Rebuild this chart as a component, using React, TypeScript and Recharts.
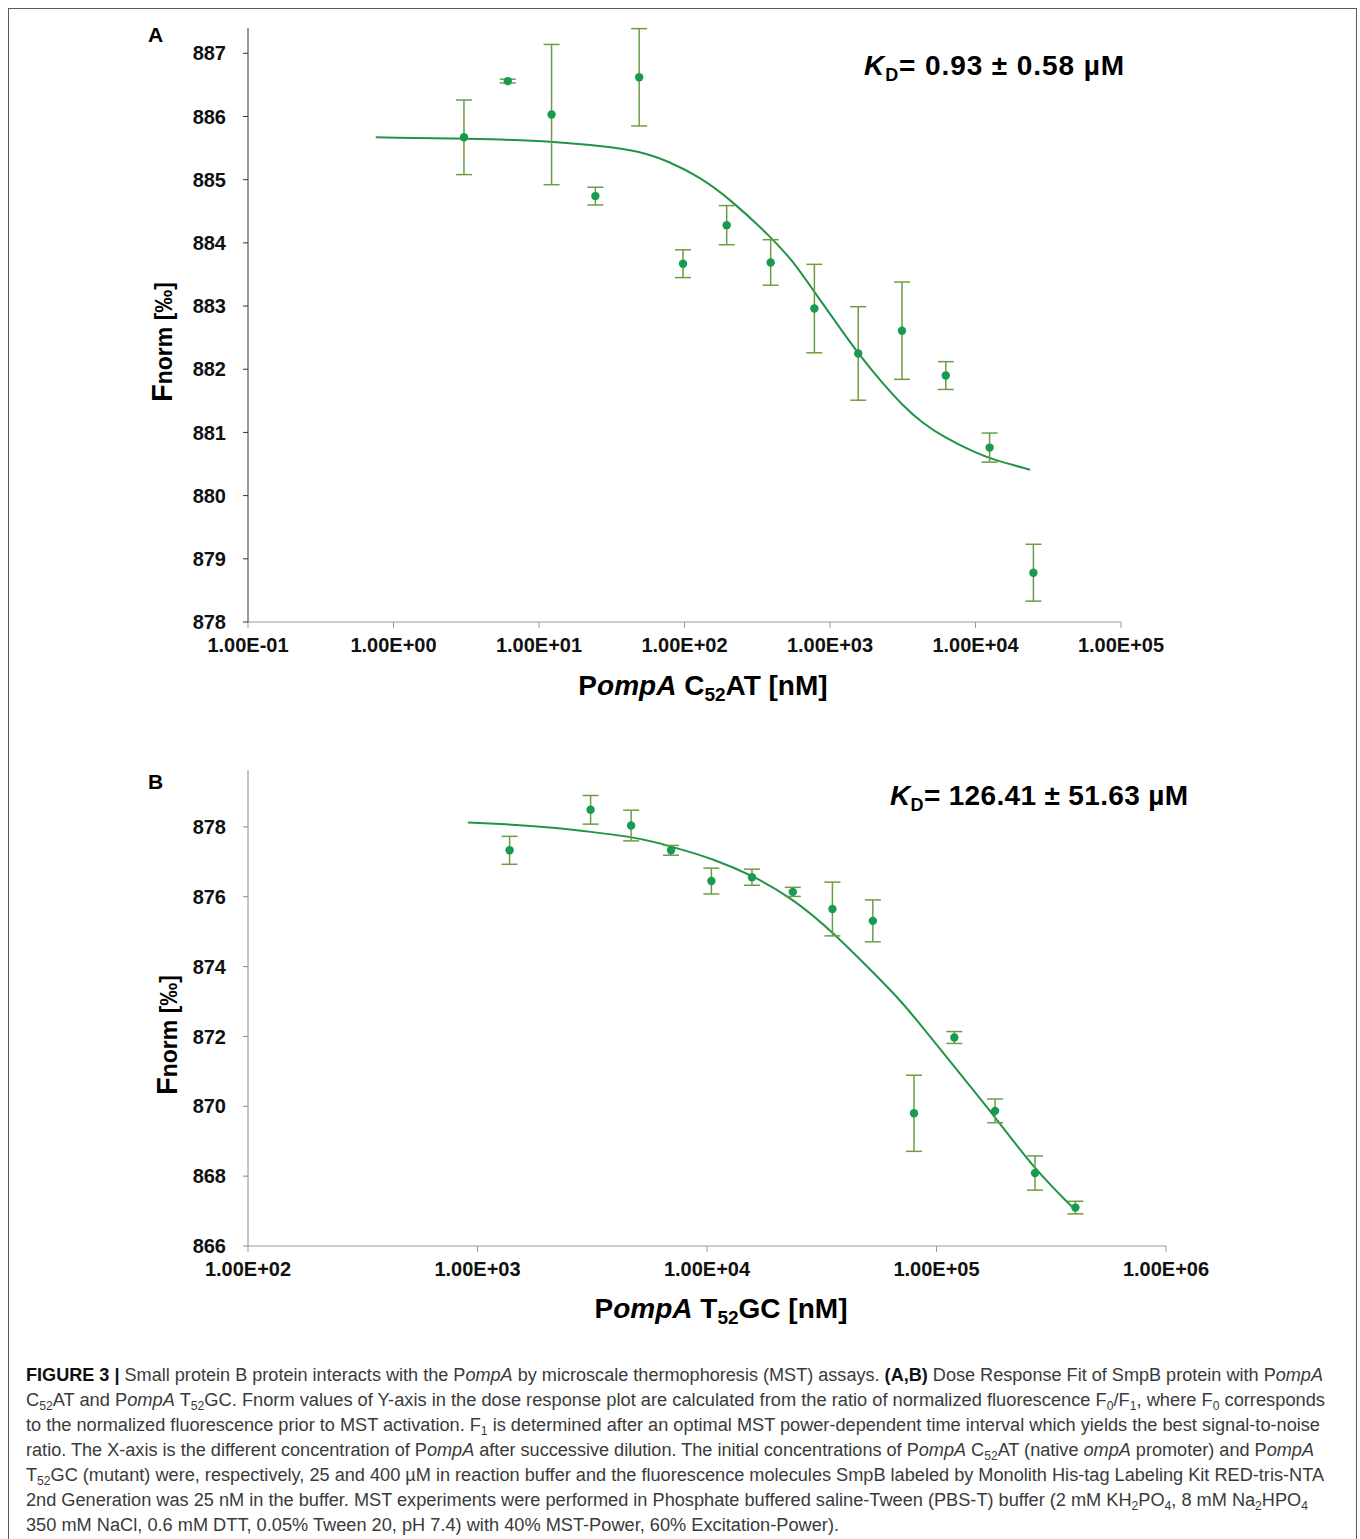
import React from "react"
import { ComposedChart, Scatter, Line, XAxis, YAxis, ErrorBar } from "recharts"

const FONT = "'Liberation Sans', Arial, Helvetica, sans-serif"

// Panel A: PompA C52AT (concentration nM, Fnorm ‰, error)
const concA = [3.05, 6.1, 12.2, 24.4, 48.8, 97.7, 195, 391, 781, 1563, 3125, 6250, 12500, 25000]
const fnormA = [885.67, 886.56, 886.03, 884.74, 886.62, 883.67, 884.28, 883.69, 882.96, 882.25, 882.61, 881.9, 880.76, 878.78]
const errA = [0.59, 0.03, 1.11, 0.14, 0.77, 0.22, 0.31, 0.36, 0.7, 0.74, 0.77, 0.22, 0.23, 0.45]

// fitted dose response curve
const fitConcA = [0.755, 5.74, 12.4, 28, 49.4, 77.8, 128, 206, 394, 557, 777, 1100, 1580, 2275, 3205, 4220, 5980, 9930, 13200, 23700]
const fitFnormA = [885.67, 885.64, 885.6, 885.53, 885.45, 885.29, 885.04, 884.69, 884.09, 883.71, 883.23, 882.74, 882.23, 881.79, 881.41, 881.17, 880.93, 880.68, 880.57, 880.41]

const xTicksA = [0.1, 1, 10, 100, 1000, 10000, 100000]
const xTickLabelsA = ["1.00E-01", "1.00E+00", "1.00E+01", "1.00E+02", "1.00E+03", "1.00E+04", "1.00E+05"]
const yTicksA = [878, 879, 880, 881, 882, 883, 884, 885, 886, 887]

// Panel B: PompA T52GC
const concB = [1380, 3110, 4670, 6970, 10450, 15700, 23650, 35200, 52800, 79800, 119600, 180000, 268700, 402800]
const fnormB = [877.33, 878.49, 878.04, 877.33, 876.45, 876.56, 876.14, 875.65, 875.31, 869.8, 871.97, 869.87, 868.09, 867.1]
const errB = [0.4, 0.41, 0.44, 0.14, 0.37, 0.23, 0.13, 0.77, 0.6, 1.09, 0.17, 0.34, 0.49, 0.18]

const fitConcB = [908, 1309, 2085, 3113, 4665, 6110, 7850, 10450, 15700, 23650, 35200, 52370, 69820, 96400, 119600, 180000, 268700, 389000]
const fitFnormB = [878.13, 878.08, 877.99, 877.86, 877.72, 877.55, 877.34, 877.1, 876.62, 875.95, 875.0, 873.86, 873.04, 871.9, 871.13, 869.7, 868.18, 867.13]

const xTicksB = [100, 1000, 10000, 100000, 1000000]
const xTickLabelsB = ["1.00E+02", "1.00E+03", "1.00E+04", "1.00E+05", "1.00E+06"]
const yTicksB = [866, 868, 870, 872, 874, 876, 878]

const DOT = "#169b50"
const FIT = "#1f9447"
const ERR = "#6e9c45"

function Dot(props: any) {
  if (props.cx == null || props.cy == null) return null
  return <circle cx={props.cx} cy={props.cy} r={4.2} fill={DOT} />
}

function DosePlot(props: any) {
  const { points, fit, xTicks, xLabels, yTicks, xDomain, yDomain, height, margin, yAxisColor } = props
  const tickStyle = { fill: "#111", fontSize: 20, fontWeight: 700, fontFamily: FONT }
  return (
    <ComposedChart width={1360} height={height} margin={margin}>
      <XAxis
        dataKey="x"
        type="number"
        scale="log"
        domain={xDomain}
        ticks={xTicks}
        allowDataOverflow
        height={60}
        interval={0}
        tickSize={6}
        tickMargin={10}
        stroke="#9a9a9a"
        tick={tickStyle}
        tickFormatter={(v: number, i: number) => xLabels[i]}
      />
      <YAxis
        type="number"
        domain={yDomain}
        ticks={yTicks}
        allowDataOverflow
        width={100}
        interval={0}
        tickSize={5}
        tickMargin={17}
        stroke={yAxisColor}
        tick={tickStyle}
      />
      <Line
        data={fit}
        dataKey="y"
        type="basis"
        stroke={FIT}
        strokeWidth={2}
        dot={false}
        isAnimationActive={false}
      />
      <Scatter data={points} dataKey="y" shape={<Dot />} isAnimationActive={false}>
        <ErrorBar dataKey="err" direction="y" width={8} stroke={ERR} strokeWidth={1.5} isAnimationActive={false} />
      </Scatter>
    </ComposedChart>
  )
}

const pointsA = concA.map((x, i) => ({ x, y: fnormA[i], err: errA[i] }))
const fitA = fitConcA.map((x, i) => ({ x, y: fitFnormA[i] }))
const pointsB = concB.map((x, i) => ({ x, y: fnormB[i], err: errB[i] }))
const fitB = fitConcB.map((x, i) => ({ x, y: fitFnormB[i] }))

// subscript followed by normal text back on the baseline
const sub = (t: string, after: string, italicAfter = false) => (
  <>
    <tspan fontSize={12} dy={4}>{t}</tspan>
    <tspan dy={-4} fontStyle={italicAfter ? "italic" : undefined}>{after}</tspan>
  </>
)

export default function App() {
  const capY = [1381, 1406, 1431, 1456, 1481, 1506, 1531]
  const capW = [1297, 1299, 1294, 1288, 1298, 1282, 813]
  const capProps = (i: number) => ({
    x: 26,
    y: capY[i],
    textLength: capW[i],
    lengthAdjust: "spacingAndGlyphs",
    fontSize: 18,
    fill: "#3a3a3a",
  })
  return (
    <div style={{ position: "relative", width: 1360, height: 1539, overflow: "hidden", background: "#fff", fontFamily: FONT }}>
      <style>{"body{margin:0}"}</style>
      <div style={{ position: "absolute", left: 8, top: 8, width: 1347, height: 1560, border: "1px solid #5a5a5a" }} />

      <div style={{ position: "absolute", left: 0, top: 0 }}>
        <DosePlot
          points={pointsA}
          fit={fitA}
          xTicks={xTicksA}
          xLabels={xTickLabelsA}
          yTicks={yTicksA}
          xDomain={[0.1, 100000]}
          yDomain={[878, 887.4]}
          height={720}
          margin={{ top: 28, right: 239, bottom: 38, left: 148 }}
          yAxisColor="#333"
        />
      </div>

      <div style={{ position: "absolute", left: 0, top: 740 }}>
        <DosePlot
          points={pointsB}
          fit={fitB}
          xTicks={xTicksB}
          xLabels={xTickLabelsB}
          yTicks={yTicksB}
          xDomain={[100, 1000000]}
          yDomain={[866, 879.63]}
          height={600}
          margin={{ top: 30, right: 194, bottom: 34, left: 148 }}
          yAxisColor="#8a8a8a"
        />
      </div>

      <svg width={1360} height={1539} style={{ position: "absolute", left: 0, top: 0, pointerEvents: "none" }} fontFamily={FONT}>
        <text x={148} y={42} fontSize={21} fontWeight={700} fill="#000">A</text>
        <text x={148} y={789} fontSize={21} fontWeight={700} fill="#000">B</text>

        <text x={864} y={75} fontSize={28} fontWeight={700} fill="#000" textLength={260} lengthAdjust="spacing">
          <tspan fontStyle="italic">K</tspan>
          <tspan fontSize={18} dy={6}>D</tspan>
          <tspan dy={-6}>= 0.93 ± 0.58 µM</tspan>
        </text>
        <text x={890} y={805} fontSize={28} fontWeight={700} fill="#000" textLength={298} lengthAdjust="spacing">
          <tspan fontStyle="italic">K</tspan>
          <tspan fontSize={18} dy={6}>D</tspan>
          <tspan dy={-6}>= 126.41 ± 51.63 µM</tspan>
        </text>

        <text transform="translate(172,342) rotate(-90)" textAnchor="middle" fontWeight={700} fill="#000">
          <tspan fontSize={29}>F</tspan>
          <tspan fontSize={23}>norm [‰]</tspan>
        </text>
        <text transform="translate(177,1035) rotate(-90)" textAnchor="middle" fontWeight={700} fill="#000">
          <tspan fontSize={29}>F</tspan>
          <tspan fontSize={23}>norm [‰]</tspan>
        </text>

        <text x={703} y={695} textAnchor="middle" fontSize={28} fontWeight={700} fill="#000">
          <tspan>P</tspan>
          <tspan fontStyle="italic">ompA</tspan>
          <tspan> C</tspan>
          <tspan fontSize={19} dy={6}>52</tspan>
          <tspan dy={-6}>AT [nM]</tspan>
        </text>
        <text x={721} y={1318} textAnchor="middle" fontSize={28} fontWeight={700} fill="#000">
          <tspan>P</tspan>
          <tspan fontStyle="italic">ompA</tspan>
          <tspan> T</tspan>
          <tspan fontSize={19} dy={6}>52</tspan>
          <tspan dy={-6}>GC [nM]</tspan>
        </text>

        <text {...capProps(0)}>
          <tspan fontWeight={700} fill="#111">FIGURE 3 | </tspan>
          <tspan>Small protein B protein interacts with the P</tspan>
          <tspan fontStyle="italic">ompA</tspan>
          <tspan> by microscale thermophoresis (MST) assays. </tspan>
          <tspan fontWeight={700} fill="#111">(A,B)</tspan>
          <tspan> Dose Response Fit of SmpB protein with P</tspan>
          <tspan fontStyle="italic">ompA</tspan>
        </text>
        <text {...capProps(1)}>
          <tspan>C</tspan>
          {sub("52", "AT and P")}
          <tspan fontStyle="italic">ompA</tspan>
          <tspan> T</tspan>
          {sub("52", "GC. Fnorm values of Y-axis in the dose response plot are calculated from the ratio of normalized fluorescence F")}
          {sub("0", "/F")}
          {sub("1", ", where F")}
          {sub("0", " corresponds")}
        </text>
        <text {...capProps(2)}>
          <tspan>to the normalized fluorescence prior to MST activation. F</tspan>
          {sub("1", " is determined after an optimal MST power-dependent time interval which yields the best signal-to-noise")}
        </text>
        <text {...capProps(3)}>
          <tspan>ratio. The X-axis is the different concentration of P</tspan>
          <tspan fontStyle="italic">ompA</tspan>
          <tspan> after successive dilution. The initial concentrations of P</tspan>
          <tspan fontStyle="italic">ompA</tspan>
          <tspan> C</tspan>
          {sub("52", "AT (native ")}
          <tspan fontStyle="italic">ompA</tspan>
          <tspan> promoter) and P</tspan>
          <tspan fontStyle="italic">ompA</tspan>
        </text>
        <text {...capProps(4)}>
          <tspan>T</tspan>
          {sub("52", "GC (mutant) were, respectively, 25 and 400 µM in reaction buffer and the fluorescence molecules SmpB labeled by Monolith His-tag Labeling Kit RED-tris-NTA")}
        </text>
        <text {...capProps(5)}>
          <tspan>2nd Generation was 25 nM in the buffer. MST experiments were performed in Phosphate buffered saline-Tween (PBS-T) buffer (2 mM KH</tspan>
          {sub("2", "PO")}
          <tspan fontSize={12} dy={4}>4</tspan>
          <tspan dy={-4}>, 8 mM Na</tspan>
          {sub("2", "HPO")}
          <tspan fontSize={12} dy={4}>4</tspan>
        </text>
        <text {...capProps(6)}>
          <tspan>350 mM NaCl, 0.6 mM DTT, 0.05% Tween 20, pH 7.4) with 40% MST-Power, 60% Excitation-Power).</tspan>
        </text>
      </svg>
    </div>
  )
}
